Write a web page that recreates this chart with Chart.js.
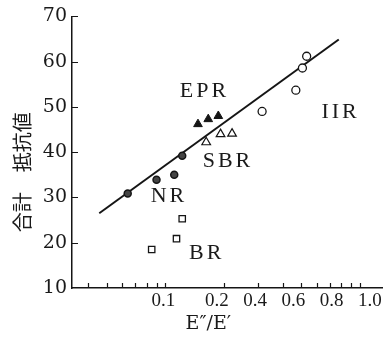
<!DOCTYPE html>
<html><head><meta charset="utf-8">
<script src="https://cdn.jsdelivr.net/npm/chart.js@4/dist/chart.umd.min.js"></script>
<style>html,body{margin:0;padding:0;background:#fff}canvas{display:block}</style>
</head><body>
<canvas id="c" width="389" height="337"></canvas>
<script>
// ---- data ----
const nrX = [0.064, 0.090, 0.111, 0.122];
const nrY = [30.9, 33.9, 35.0, 39.2];
const eprX = [0.147, 0.166, 0.187];
const eprY = [46.2, 47.3, 48.0];
const sbrX = [0.162, 0.192, 0.220];
const sbrY = [42.2, 44.0, 44.1];
const iirX = [0.314, 0.468, 0.506, 0.532];
const iirY = [49.0, 53.7, 58.6, 61.2];
const brX = [0.085, 0.114, 0.122];
const brY = [18.5, 20.9, 25.3];
const fitX = [0.0457, 0.778];
const fitY = [26.5, 64.9];
const groupNames = ['NR', 'EPR', 'SBR', 'IIR', 'BR'];
const groupLabelX = [0.1024, 0.156, 0.206, 0.781, 0.160];
const groupLabelY = [30.3, 53.4, 38.1, 48.9, 17.6];
const yTicks = [10, 20, 30, 40, 50, 60, 70];
const xMinorTicks = [0.04, 0.05, 0.06, 0.07, 0.08, 0.09, 0.1, 0.2, 0.3, 0.4, 0.5, 0.6, 0.7, 0.8, 0.9, 1.0];
const xTickLabels = ['0.1', '0.2', '0.4', '0.6', '0.8', '1.0'];
const xLabelSlots = [0, 1.4, 2.4, 3.4, 4.4, 5.4];
const xTitle = 'E″/E′';
const yTitle = '合計　抵抗値';

const pts = (xs, ys) => xs.map((x, i) => ({x: x, y: ys[i]}));
const INK = '#151515';

const extras = {
  id: 'extras',
  afterDraw(chart) {
    const ctx = chart.ctx, xs = chart.scales.x, ys = chart.scales.y;
    ctx.save();
    ctx.strokeStyle = INK; ctx.lineWidth = 1.2;
    ctx.beginPath();
    xMinorTicks.forEach(v => {
      const px = Math.round(xs.getPixelForValue(v)) + 0.5;
      ctx.moveTo(px, xs.top); ctx.lineTo(px, xs.top - 5);
    });
    yTicks.slice(1).forEach(v => {
      const py = Math.round(ys.getPixelForValue(v)) + 0.5;
      ctx.moveTo(ys.right, py); ctx.lineTo(ys.right + 6, py);
    });
    ctx.stroke();
    ctx.fillStyle = '#1a1a1a';
    ctx.font = '22px "Liberation Serif"';
    ctx.textAlign = 'center'; ctx.textBaseline = 'middle';
    ctx.letterSpacing = '3px';
    groupNames.forEach((t, i) => {
      ctx.fillText(t, xs.getPixelForValue(groupLabelX[i]) + 1.5, ys.getPixelForValue(groupLabelY[i]));
    });
    ctx.restore();
  }
};

new Chart(document.getElementById('c'), {
  type: 'scatter',
  data: {
    datasets: [
      {label: 'NR', data: pts(nrX, nrY), pointStyle: 'circle', pointRadius: 3.5,
       backgroundColor: '#444', borderColor: INK, borderWidth: 1.5},
      {label: 'EPR', data: pts(eprX, eprY), pointStyle: 'triangle', pointRadius: 5,
       backgroundColor: INK, borderColor: INK, borderWidth: 1},
      {label: 'SBR', data: pts(sbrX, sbrY), pointStyle: 'triangle', pointRadius: 5,
       backgroundColor: '#fff', borderColor: INK, borderWidth: 1.2},
      {label: 'IIR', data: pts(iirX, iirY), pointStyle: 'circle', pointRadius: 4,
       backgroundColor: '#fff', borderColor: INK, borderWidth: 1.3},
      {label: 'BR', data: pts(brX, brY), pointStyle: 'rect', pointRadius: 4.5,
       backgroundColor: '#fff', borderColor: INK, borderWidth: 1.3},
      {label: 'fit', data: pts(fitX, fitY), showLine: true, pointRadius: 0,
       borderColor: INK, borderWidth: 2, fill: false}
    ]
  },
  options: {
    responsive: false,
    devicePixelRatio: 1,
    animation: false,
    layout: {padding: {top: 15, right: 4, bottom: 0, left: 0}},
    plugins: {legend: {display: false}, tooltip: {enabled: false}},
    scales: {
      x: {
        type: 'logarithmic', position: 'bottom', weight: 0,
        min: 0.0331, max: 1.31,
        afterBuildTicks: s => { s.ticks = xMinorTicks.map(v => ({value: v})); },
        afterFit: s => { s.height = 0; },
        ticks: {display: false},
        grid: {display: false, drawTicks: false},
        border: {display: true, color: INK, width: 1.5}
      },
      xl: {
        type: 'linear', position: 'bottom', weight: 1,
        min: -2.39, max: 5.74,
        afterBuildTicks: s => { s.ticks = xLabelSlots.map(v => ({value: v})); },
        afterFit: s => { s.height = 49; },
        ticks: {
          autoSkip: false, maxRotation: 0, padding: 2,
          callback: (v, i) => xTickLabels[i],
          color: '#1a1a1a', font: {family: '"Liberation Serif"', size: 19}
        },
        grid: {display: false, drawTicks: false},
        border: {display: false},
        title: {display: true, text: xTitle + '\u2003\u2003', color: '#1a1a1a',
                font: {family: '"DejaVu Serif"', size: 19}, padding: {top: 0, bottom: 2}}
      },
      y: {
        type: 'linear', position: 'left',
        min: 10, max: 70,
        afterBuildTicks: s => { s.ticks = yTicks.map(v => ({value: v})); },
        afterFit: s => { s.width = 72; },
        ticks: {padding: 5, color: '#1a1a1a', font: {family: '"DejaVu Serif"', size: 19}},
        grid: {display: false, drawTicks: false},
        border: {display: true, color: INK, width: 1.5},
        title: {display: true, text: yTitle + '　　', color: '#1a1a1a',
                font: {family: '"Noto Sans CJK JP"', size: 20}, padding: {top: 10, bottom: 0}}
      }
    }
  },
  plugins: [extras]
});
</script>
</body></html>
